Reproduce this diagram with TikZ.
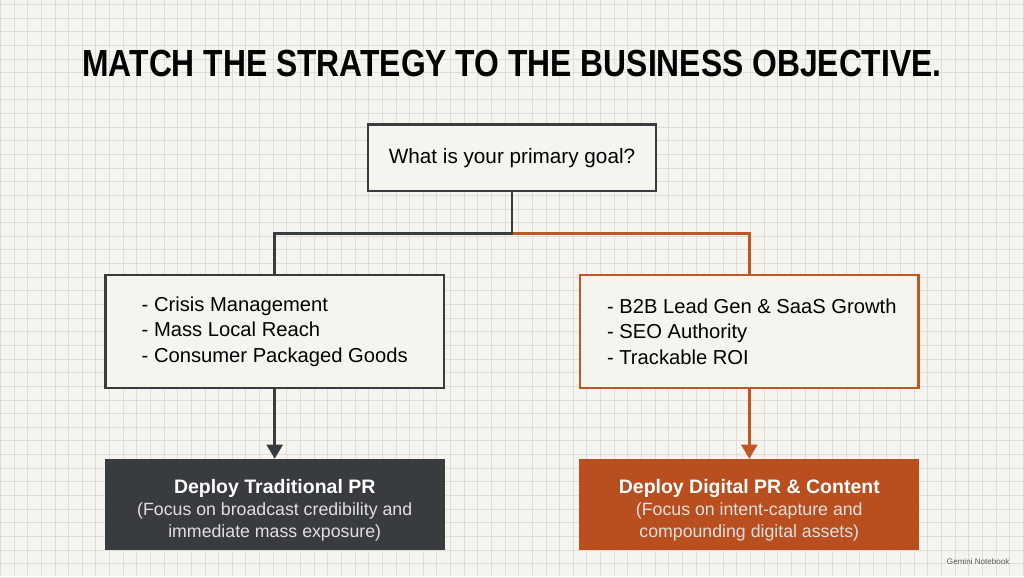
\documentclass[tikz,border=0pt]{standalone}
\usepackage{fontspec}
\usepackage{graphicx}
\setmainfont{Liberation Sans}
\usetikzlibrary{positioning,arrows.meta,calc}

\definecolor{paper}{HTML}{F6F4EE}
\definecolor{gridgray}{HTML}{DFDDD7}
\definecolor{ink}{HTML}{383C3F}
\definecolor{rust}{HTML}{C05626}
\definecolor{rustfill}{HTML}{B94E1E}

\newcommand{\subfont}{\fontsize{10.1}{12.7}\selectfont\color{white!88!black}}

\begin{document}
\begin{tikzpicture}[
  x=0.02cm, y=-0.02cm,
  every node/.style={font=\fontsize{11.5}{14.5}\selectfont},
  % question box and the two list boxes share the outline look
  question/.style={
    draw=ink,
    line width=1.4pt,
    fill=paper,
    align=center,
    minimum width=5.76cm,
    minimum height=1.34cm,
    inner sep=0pt,
    font=\fontsize{11.8}{14.5}\selectfont
  },
  listbox/.style={
    draw=#1,
    line width=1.4pt,
    fill=paper,
    align=left,
    minimum width=6.78cm,
    minimum height=2.26cm,
    inner sep=0pt
  },
  deploy/.style={
    fill=#1,
    text=white,
    align=center,
    minimum width=6.8cm,
    minimum height=1.82cm,
    inner sep=0pt,
    font=\fontsize{11.1}{12.7}\selectfont
  },
  link/.style={line width=1.4pt, draw=#1},
  arr/.style={-{Triangle[length=2.8mm, width=3.2mm]}, line width=1.4pt, draw=#1, color=#1}
]

% paper background with a light grid
\fill[paper] (0,0) rectangle (1024,576);
\foreach \gx in {0,...,75} \draw[gridgray, line width=0.5pt] (13.65*\gx,0) -- (13.65*\gx,576);
\foreach \gy in {0,...,42} \draw[gridgray, line width=0.5pt] (0,4+13.65*\gy) -- (1024,4+13.65*\gy);
\useasboundingbox (0,0) rectangle (1024,576);

% Title
\node[inner sep=0pt] (title) at (512,63) {\resizebox{17.2cm}{\height}{\fontsize{21.5}{24}\selectfont\bfseries MATCH THE STRATEGY TO THE BUSINESS OBJECTIVE.}};

\node[question] (goal) at (512,157.5) {What is your primary goal?};

\node[listbox=ink] (tradlist) at (274.5,331.5) {- Crisis Management\\- Mass Local Reach\\- Consumer Packaged Goods};
\node[listbox=rust] (digilist) at (749.5,331.5) {\hspace*{0.1cm}- B2B Lead Gen \& SaaS Growth\\\hspace*{0.1cm}- SEO Authority\\\hspace*{0.1cm}- Trackable ROI};

% top strut pushes the three lines a little lower in the filled boxes
\node[deploy=ink] (tradbox) at (274.5,504.5) {\rule{0pt}{14.5pt}\textbf{Deploy Traditional PR}\\\subfont (Focus on broadcast credibility and\\\subfont immediate mass exposure)};
\node[deploy=rustfill] (digibox) at (749.5,504.5) {\rule{0pt}{14.5pt}\textbf{Deploy Digital PR \& Content}\\\subfont (Focus on intent-capture and\\\subfont compounding digital assets)};

% Branch connectors from the question
\coordinate (split) at ($(goal.south)+(0,41)$);
\draw[link=rust] (split) -| (digilist.north);
\draw[link=ink] (goal.south) -- (split) -| (tradlist.north);

% Down to the recommendations
\draw[arr=ink] (tradlist.south) -- (tradbox.north);
\draw[arr=rust] (digilist.south) -- (digibox.north);

% watermark
\node[font=\fontsize{4.6}{5}\selectfont, text=black!65, anchor=east] (mark) at (1016,562) {Gemini Notebook};

\end{tikzpicture}
\end{document}
